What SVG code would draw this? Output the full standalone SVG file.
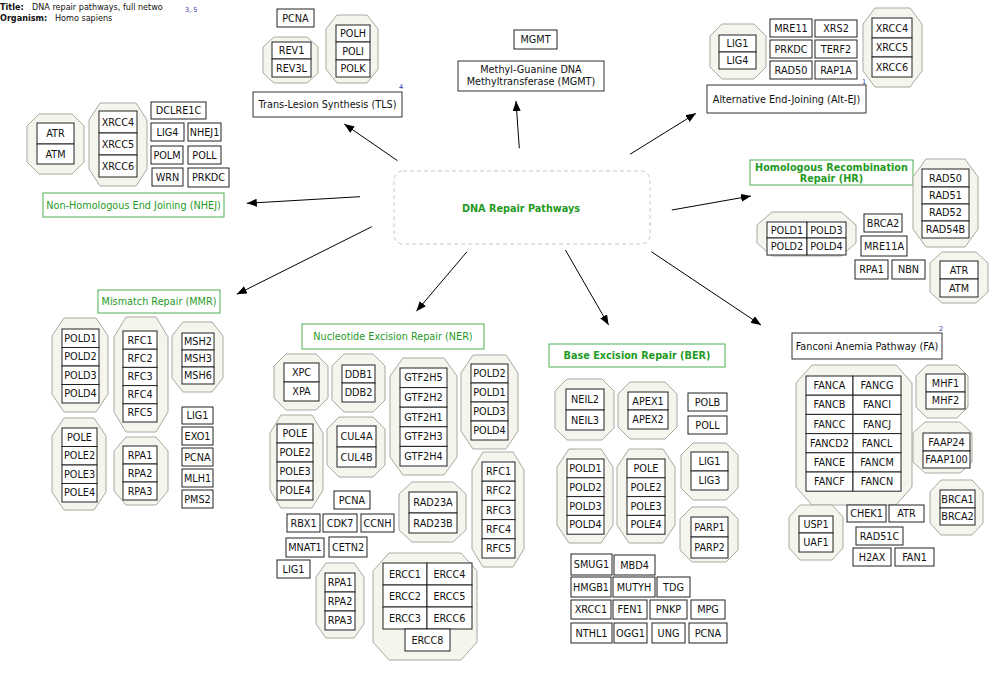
<svg xmlns="http://www.w3.org/2000/svg" width="1000" height="674" viewBox="0 0 1000 674">
<style>
.b{fill:#fff;stroke:#222;stroke-width:1}
.o{fill:#f5f5ee;stroke:#a9a9a0;stroke-width:1}
text{font-family:"DejaVu Sans",sans-serif;font-size:9.7px;fill:#111;text-anchor:middle}
.gl{fill:#fff;stroke:#4caf50;stroke-width:1}
.kl{fill:#fff;stroke:#333;stroke-width:1}
.gt{fill:#1f9a1f}
.bd{font-weight:bold}
.sup{font-size:6.5px;fill:#3333aa;text-anchor:start}
.ttl{font-size:8.1px;text-anchor:start}
.e{stroke:#000;stroke-width:1;fill:none;marker-end:url(#ah)}
</style>
<defs>
<marker id="ah" markerUnits="userSpaceOnUse" markerWidth="10" markerHeight="8" refX="10" refY="4" orient="auto"><path d="M0,0 L10,4 L0,8 z" fill="#000"/></marker>
</defs>
<rect width="1000" height="674" fill="#fff"/>
<g id="info">
<text class="ttl bd" x="0" y="9.5">Title:</text><text class="ttl" x="32" y="9.5">DNA repair pathways, full netwo</text>
<text class="sup" x="185" y="11.5">3, 5</text>
<text class="ttl bd" x="0" y="21">Organism:</text><text class="ttl" x="55" y="21">Homo sapiens</text>
</g>
<g id="connectors">
<line class="e" x1="397.5" y1="160.7" x2="344.3" y2="124"/>
<line class="e" x1="519.3" y1="148.3" x2="516" y2="101"/>
<line class="e" x1="630" y1="154.3" x2="696" y2="113.3"/>
<line class="e" x1="360" y1="196.7" x2="246.8" y2="203.3"/>
<line class="e" x1="671.8" y1="210" x2="751" y2="196"/>
<line class="e" x1="371.8" y1="226.7" x2="236.8" y2="294.3"/>
<line class="e" x1="467" y1="251.7" x2="416.4" y2="311.3"/>
<line class="e" x1="565.4" y1="250" x2="608.6" y2="325"/>
<line class="e" x1="651.4" y1="251.7" x2="761" y2="325"/>
</g>
<g id="center"><rect x="394" y="171" width="256" height="73" rx="9" fill="#fff" stroke="#c8c8c8" stroke-dasharray="4,3"/><text class="gt bd" x="521" y="212">DNA Repair Pathways</text></g>

<!-- NHEJ -->
<g id="nhej-label"><rect class="gl" x="43" y="193" width="181" height="24"/><text class="gt" x="133.5" y="208.5">Non-Homologous End Joining (NHEJ)</text></g>
<g id="nhej-atr-atm"><polygon class="o" points="39,114 72,114 84,126 84,162 72,174 39,174 27,162 27,126"/>
<g id="nhej-ATR"><rect class="b" x="37" y="123" width="37" height="21"/><text x="55.5" y="137">ATR</text></g>
<g id="nhej-ATM"><rect class="b" x="37" y="144" width="37" height="20"/><text x="55.5" y="157.5">ATM</text></g></g>
<g id="nhej-xrcc"><polygon class="o" points="100,103 136,103 147,120 147,169 136,186 100,186 89,169 89,120"/>
<g id="nhej-XRCC4"><rect class="b" x="99" y="111" width="38" height="22"/><text x="118" y="125.5">XRCC4</text></g>
<g id="nhej-XRCC5"><rect class="b" x="99" y="133" width="38" height="22"/><text x="118" y="147.5">XRCC5</text></g>
<g id="nhej-XRCC6"><rect class="b" x="99" y="155" width="38" height="22"/><text x="118" y="169.5">XRCC6</text></g></g>
<g id="nhej-DCLRE1C"><rect class="b" x="151" y="102" width="55" height="17"/><text x="178.5" y="114">DCLRE1C</text></g>
<g id="nhej-LIG4"><rect class="b" x="151" y="123" width="33" height="18"/><text x="167.5" y="135.5">LIG4</text></g>
<g id="nhej-NHEJ1"><rect class="b" x="188" y="123" width="33" height="18"/><text x="204.5" y="135.5">NHEJ1</text></g>
<g id="nhej-POLM"><rect class="b" x="151" y="146" width="32" height="18"/><text x="167" y="158.5">POLM</text></g>
<g id="nhej-POLL"><rect class="b" x="188" y="146" width="33" height="18"/><text x="204.5" y="158.5">POLL</text></g>
<g id="nhej-WRN"><rect class="b" x="152" y="168" width="31" height="18"/><text x="167.5" y="180.5">WRN</text></g>
<g id="nhej-PRKDC"><rect class="b" x="188" y="168" width="41" height="19"/><text x="208.5" y="181">PRKDC</text></g>

<!-- TLS -->
<g id="tls-label"><rect class="kl" x="253" y="92" width="149" height="25"/><text x="327.5" y="108">Trans-Lesion Synthesis (TLS)</text><text class="sup" x="399" y="89">4</text></g>
<g id="tls-PCNA"><rect class="b" x="277" y="9" width="37" height="18"/><text x="295.5" y="21.5">PCNA</text></g>
<g id="tls-rev"><polygon class="o" points="274,37 307,37 318,47 318,73 307,83 274,83 263,73 263,47"/>
<g id="tls-REV1"><rect class="b" x="272" y="42" width="39" height="17"/><text x="291.5" y="54">REV1</text></g>
<g id="tls-REV3L"><rect class="b" x="272" y="59" width="39" height="18"/><text x="291.5" y="71.5">REV3L</text></g></g>
<g id="tls-pol"><polygon class="o" points="337,15 367,15 378,29 378,69 367,83 337,83 326,69 326,29"/>
<g id="tls-POLH"><rect class="b" x="336" y="25" width="34" height="17"/><text x="353" y="37">POLH</text></g>
<g id="tls-POLI"><rect class="b" x="336" y="42" width="34" height="18"/><text x="353" y="54.5">POLI</text></g>
<g id="tls-POLK"><rect class="b" x="336" y="60" width="34" height="17"/><text x="353" y="72">POLK</text></g></g>

<!-- MGMT -->
<g id="mgmt-MGMT"><rect class="b" x="514" y="30" width="43" height="19"/><text x="535.5" y="43">MGMT</text></g>
<g id="mgmt-label"><rect class="kl" x="458" y="61" width="146" height="30"/><text x="531" y="73">Methyl-Guanine DNA</text><text x="531" y="85">Methyltransferase (MGMT)</text></g>

<!-- Alt-EJ -->
<g id="altej-label"><rect class="kl" x="707" y="85" width="159" height="28"/><text x="786.5" y="102.5">Alternative End-Joining (Alt-EJ)</text><text class="sup" x="862" y="84">1</text></g>
<g id="altej-lig"><polygon class="o" points="722,24 754,24 766,36 766,67 754,79 722,79 710,67 710,36"/>
<g id="altej-LIG1"><rect class="b" x="719" y="35" width="37" height="17"/><text x="737.5" y="47">LIG1</text></g>
<g id="altej-LIG4"><rect class="b" x="719" y="52" width="37" height="17"/><text x="737.5" y="64">LIG4</text></g></g>
<g id="altej-MRE11"><rect class="b" x="770" y="19" width="42" height="18"/><text x="791" y="31.5">MRE11</text></g>
<g id="altej-XRS2"><rect class="b" x="815" y="20" width="42" height="17"/><text x="836" y="32">XRS2</text></g>
<g id="altej-PRKDC"><rect class="b" x="770" y="40" width="42" height="18"/><text x="791" y="52.5">PRKDC</text></g>
<g id="altej-TERF2"><rect class="b" x="815" y="40" width="42" height="18"/><text x="836" y="52.5">TERF2</text></g>
<g id="altej-RAD50"><rect class="b" x="770" y="61" width="42" height="18"/><text x="791" y="73.5">RAD50</text></g>
<g id="altej-RAP1A"><rect class="b" x="815" y="61" width="42" height="18"/><text x="836" y="73.5">RAP1A</text></g>
<g id="altej-xrcc"><polygon class="o" points="875,8 910,8 922,24 922,71 910,87 875,87 863,71 863,24"/>
<g id="altej-XRCC4"><rect class="b" x="872" y="18" width="40" height="20"/><text x="892" y="31.5">XRCC4</text></g>
<g id="altej-XRCC5"><rect class="b" x="872" y="38" width="40" height="19"/><text x="892" y="51">XRCC5</text></g>
<g id="altej-XRCC6"><rect class="b" x="872" y="57" width="40" height="20"/><text x="892" y="70.5">XRCC6</text></g></g>

<!-- HR -->
<g id="hr-label"><rect class="gl" x="750" y="160" width="163" height="25"/><text class="gt bd" x="831.5" y="171">Homologous Recombination</text><text class="gt bd" x="831.5" y="182">Repair (HR)</text></g>
<g id="hr-rad"><polygon class="o" points="926,159 965,159 978,177 978,229 965,247 926,247 913,229 913,177"/>
<g id="hr-RAD50"><rect class="b" x="922" y="169" width="47" height="18"/><text x="945.5" y="181.5">RAD50</text></g>
<g id="hr-RAD51"><rect class="b" x="922" y="187" width="47" height="17"/><text x="945.5" y="199">RAD51</text></g>
<g id="hr-RAD52"><rect class="b" x="922" y="204" width="47" height="17"/><text x="945.5" y="216">RAD52</text></g>
<g id="hr-RAD54B"><rect class="b" x="922" y="221" width="47" height="17"/><text x="945.5" y="233">RAD54B</text></g></g>
<g id="hr-pold"><polygon class="o" points="772,212 841,212 856,225 856,243 841,256 772,256 757,243 757,225"/>
<g id="hr-POLD1"><rect class="b" x="767" y="222" width="40" height="16"/><text x="787" y="233.5">POLD1</text></g>
<g id="hr-POLD3"><rect class="b" x="807" y="222" width="39" height="16"/><text x="826.5" y="233.5">POLD3</text></g>
<g id="hr-POLD2"><rect class="b" x="767" y="238" width="40" height="17"/><text x="787" y="250">POLD2</text></g>
<g id="hr-POLD4"><rect class="b" x="807" y="238" width="39" height="17"/><text x="826.5" y="250">POLD4</text></g></g>
<g id="hr-BRCA2"><rect class="b" x="864" y="214" width="38" height="18"/><text x="883" y="226.5">BRCA2</text></g>
<g id="hr-MRE11A"><rect class="b" x="861" y="236" width="46" height="20"/><text x="884" y="249.5">MRE11A</text></g>
<g id="hr-RPA1"><rect class="b" x="855" y="260" width="33" height="19"/><text x="871.5" y="273">RPA1</text></g>
<g id="hr-NBN"><rect class="b" x="892" y="260" width="33" height="19"/><text x="908.5" y="273">NBN</text></g>
<g id="hr-atr"><polygon class="o" points="942,252 976,252 988,263 988,292 976,303 942,303 930,292 930,263"/>
<g id="hr-ATR"><rect class="b" x="940" y="261" width="38" height="18"/><text x="959" y="273.5">ATR</text></g>
<g id="hr-ATM"><rect class="b" x="940" y="279" width="38" height="18"/><text x="959" y="291.5">ATM</text></g></g>

<!-- MMR -->
<g id="mmr-label"><rect class="gl" x="98" y="290" width="122" height="23"/><text class="gt" x="159" y="305">Mismatch Repair (MMR)</text></g>
<g id="mmr-pold"><polygon class="o" points="64,318 96,318 108,336 108,394 96,412 64,412 52,394 52,336"/>
<g id="mmr-POLD1"><rect class="b" x="62" y="329" width="37" height="18.5"/><text x="80.5" y="341.8">POLD1</text></g>
<g id="mmr-POLD2"><rect class="b" x="62" y="347.5" width="37" height="18.5"/><text x="80.5" y="360.3">POLD2</text></g>
<g id="mmr-POLD3"><rect class="b" x="62" y="366" width="37" height="18.5"/><text x="80.5" y="378.8">POLD3</text></g>
<g id="mmr-POLD4"><rect class="b" x="62" y="384.5" width="37" height="18.5"/><text x="80.5" y="397.3">POLD4</text></g></g>
<g id="mmr-rfc"><polygon class="o" points="126,317 156,317 168,337 168,412 156,432 126,432 114,412 114,337"/>
<g id="mmr-RFC1"><rect class="b" x="123" y="331" width="34" height="18.2"/><text x="140" y="343.6">RFC1</text></g>
<g id="mmr-RFC2"><rect class="b" x="123" y="349.2" width="34" height="18.2"/><text x="140" y="361.8">RFC2</text></g>
<g id="mmr-RFC3"><rect class="b" x="123" y="367.4" width="34" height="18.2"/><text x="140" y="380">RFC3</text></g>
<g id="mmr-RFC4"><rect class="b" x="123" y="385.6" width="34" height="18.2"/><text x="140" y="398.2">RFC4</text></g>
<g id="mmr-RFC5"><rect class="b" x="123" y="403.8" width="34" height="18.2"/><text x="140" y="416.4">RFC5</text></g></g>
<g id="mmr-msh"><polygon class="o" points="183,322 212,322 223,336 223,378 212,392 183,392 172,378 172,336"/>
<g id="mmr-MSH2"><rect class="b" x="182" y="333" width="32" height="17"/><text x="198" y="345">MSH2</text></g>
<g id="mmr-MSH3"><rect class="b" x="182" y="350" width="32" height="17"/><text x="198" y="362">MSH3</text></g>
<g id="mmr-MSH6"><rect class="b" x="182" y="367" width="32" height="17"/><text x="198" y="379">MSH6</text></g></g>
<g id="mmr-pole"><polygon class="o" points="64,418 94,418 106,436 106,492 94,510 64,510 52,492 52,436"/>
<g id="mmr-POLE"><rect class="b" x="62" y="428" width="35" height="18.5"/><text x="79.5" y="440.8">POLE</text></g>
<g id="mmr-POLE2"><rect class="b" x="62" y="446.5" width="35" height="18.5"/><text x="79.5" y="459.3">POLE2</text></g>
<g id="mmr-POLE3"><rect class="b" x="62" y="465" width="35" height="18.5"/><text x="79.5" y="477.8">POLE3</text></g>
<g id="mmr-POLE4"><rect class="b" x="62" y="483.5" width="35" height="18.5"/><text x="79.5" y="496.3">POLE4</text></g></g>
<g id="mmr-rpa"><polygon class="o" points="126,437 156,437 168,451 168,491 156,505 126,505 114,491 114,451"/>
<g id="mmr-RPA1"><rect class="b" x="123" y="446" width="34" height="18"/><text x="140" y="458.5">RPA1</text></g>
<g id="mmr-RPA2"><rect class="b" x="123" y="464" width="34" height="18"/><text x="140" y="476.5">RPA2</text></g>
<g id="mmr-RPA3"><rect class="b" x="123" y="482" width="34" height="18"/><text x="140" y="494.5">RPA3</text></g></g>
<g id="mmr-LIG1"><rect class="b" x="182" y="407" width="31" height="17"/><text x="197.5" y="419">LIG1</text></g>
<g id="mmr-EXO1"><rect class="b" x="182" y="427" width="31" height="18"/><text x="197.5" y="439.5">EXO1</text></g>
<g id="mmr-PCNA"><rect class="b" x="182" y="448" width="31" height="18"/><text x="197.5" y="460.5">PCNA</text></g>
<g id="mmr-MLH1"><rect class="b" x="182" y="469" width="31" height="18"/><text x="197.5" y="481.5">MLH1</text></g>
<g id="mmr-PMS2"><rect class="b" x="182" y="490" width="31" height="18"/><text x="197.5" y="502.5">PMS2</text></g>

<!-- NER -->
<g id="ner-label"><rect class="gl" x="302" y="324" width="182" height="25"/><text class="gt" x="393" y="340">Nucleotide Excision Repair (NER)</text></g>
<g id="ner-xp"><polygon class="o" points="286,354 316,354 328,366 328,398 316,410 286,410 274,398 274,366"/>
<g id="ner-XPC"><rect class="b" x="284" y="363" width="35" height="19"/><text x="301.5" y="376">XPC</text></g>
<g id="ner-XPA"><rect class="b" x="284" y="382" width="35" height="19"/><text x="301.5" y="395">XPA</text></g></g>
<g id="ner-ddb"><polygon class="o" points="344,354 373,354 385,366 385,400 373,412 344,412 332,400 332,366"/>
<g id="ner-DDB1"><rect class="b" x="342" y="365" width="33" height="18"/><text x="358.5" y="377.5">DDB1</text></g>
<g id="ner-DDB2"><rect class="b" x="342" y="383" width="33" height="19"/><text x="358.5" y="396">DDB2</text></g></g>
<g id="ner-gtf2h"><polygon class="o" points="403,358 444,358 457,376 457,457 444,475 403,475 390,457 390,376"/>
<g id="ner-GTF2H5"><rect class="b" x="400" y="368" width="47" height="19.6"/><text x="423.5" y="381.3">GTF2H5</text></g>
<g id="ner-GTF2H2"><rect class="b" x="400" y="387.6" width="47" height="19.6"/><text x="423.5" y="400.9">GTF2H2</text></g>
<g id="ner-GTF2H1"><rect class="b" x="400" y="407.2" width="47" height="19.6"/><text x="423.5" y="420.5">GTF2H1</text></g>
<g id="ner-GTF2H3"><rect class="b" x="400" y="426.8" width="47" height="19.6"/><text x="423.5" y="440.1">GTF2H3</text></g>
<g id="ner-GTF2H4"><rect class="b" x="400" y="446.4" width="47" height="19.6"/><text x="423.5" y="459.7">GTF2H4</text></g></g>
<g id="ner-pold"><polygon class="o" points="473,355 506,355 518,373 518,431 506,449 473,449 461,431 461,373"/>
<g id="ner-POLD2"><rect class="b" x="471" y="364" width="37" height="19"/><text x="489.5" y="377">POLD2</text></g>
<g id="ner-POLD1"><rect class="b" x="471" y="383" width="37" height="19"/><text x="489.5" y="396">POLD1</text></g>
<g id="ner-POLD3"><rect class="b" x="471" y="402" width="37" height="19"/><text x="489.5" y="415">POLD3</text></g>
<g id="ner-POLD4"><rect class="b" x="471" y="421" width="37" height="19"/><text x="489.5" y="434">POLD4</text></g></g>
<g id="ner-pole"><polygon class="o" points="281,415 312,415 323,433 323,490 312,508 281,508 270,490 270,433"/>
<g id="ner-POLE"><rect class="b" x="277" y="424" width="36" height="19"/><text x="295" y="437">POLE</text></g>
<g id="ner-POLE2"><rect class="b" x="277" y="443" width="36" height="19"/><text x="295" y="456">POLE2</text></g>
<g id="ner-POLE3"><rect class="b" x="277" y="462" width="36" height="19"/><text x="295" y="475">POLE3</text></g>
<g id="ner-POLE4"><rect class="b" x="277" y="481" width="36" height="19"/><text x="295" y="494">POLE4</text></g></g>
<g id="ner-cul4"><polygon class="o" points="339,417 373,417 385,429 385,465 373,477 339,477 327,465 327,429"/>
<g id="ner-CUL4A"><rect class="b" x="337" y="426" width="39" height="21"/><text x="356.5" y="440">CUL4A</text></g>
<g id="ner-CUL4B"><rect class="b" x="337" y="447" width="39" height="20"/><text x="356.5" y="460.5">CUL4B</text></g></g>
<g id="ner-PCNA"><rect class="b" x="334" y="491" width="36" height="18"/><text x="352" y="503.5">PCNA</text></g>
<g id="ner-RBX1"><rect class="b" x="287" y="514" width="33" height="18"/><text x="303.5" y="526.5">RBX1</text></g>
<g id="ner-CDK7"><rect class="b" x="323" y="514" width="34" height="18"/><text x="340" y="526.5">CDK7</text></g>
<g id="ner-CCNH"><rect class="b" x="361" y="514" width="33" height="18"/><text x="377.5" y="526.5">CCNH</text></g>
<g id="ner-MNAT1"><rect class="b" x="286" y="538" width="38" height="19"/><text x="305" y="551">MNAT1</text></g>
<g id="ner-CETN2"><rect class="b" x="329" y="537" width="38" height="20"/><text x="348" y="550.5">CETN2</text></g>
<g id="ner-LIG1"><rect class="b" x="277" y="560" width="33" height="18"/><text x="293.5" y="572.5">LIG1</text></g>
<g id="ner-rad23"><polygon class="o" points="412,482 453,482 466,494 466,530 453,542 412,542 399,530 399,494"/>
<g id="ner-RAD23A"><rect class="b" x="409" y="492" width="48" height="21"/><text x="433" y="506">RAD23A</text></g>
<g id="ner-RAD23B"><rect class="b" x="409" y="513" width="48" height="20"/><text x="433" y="526.5">RAD23B</text></g></g>
<g id="ner-rfc"><polygon class="o" points="483,452 513,452 524,470 524,549 513,567 483,567 472,549 472,470"/>
<g id="ner-RFC1"><rect class="b" x="482" y="462" width="33" height="19.2"/><text x="498.5" y="475.1">RFC1</text></g>
<g id="ner-RFC2"><rect class="b" x="482" y="481.2" width="33" height="19.2"/><text x="498.5" y="494.3">RFC2</text></g>
<g id="ner-RFC3"><rect class="b" x="482" y="500.4" width="33" height="19.2"/><text x="498.5" y="513.5">RFC3</text></g>
<g id="ner-RFC4"><rect class="b" x="482" y="519.6" width="33" height="19.2"/><text x="498.5" y="532.7">RFC4</text></g>
<g id="ner-RFC5"><rect class="b" x="482" y="538.8" width="33" height="19.2"/><text x="498.5" y="551.9">RFC5</text></g></g>
<g id="ner-rpa"><polygon class="o" points="326,563 354,563 364,577 364,624 354,638 326,638 316,624 316,577"/>
<g id="ner-RPA1"><rect class="b" x="325" y="573" width="30" height="19"/><text x="340" y="586">RPA1</text></g>
<g id="ner-RPA2"><rect class="b" x="325" y="592" width="30" height="19"/><text x="340" y="605">RPA2</text></g>
<g id="ner-RPA3"><rect class="b" x="325" y="611" width="30" height="19"/><text x="340" y="624">RPA3</text></g></g>
<g id="ner-ercc"><polygon class="o" points="389,553 461,553 477,571 477,642 461,660 389,660 373,642 373,571"/>
<g id="ner-ERCC1"><rect class="b" x="383" y="563" width="44" height="22"/><text x="405" y="577.5">ERCC1</text></g>
<g id="ner-ERCC4"><rect class="b" x="427" y="563" width="45" height="22"/><text x="449.5" y="577.5">ERCC4</text></g>
<g id="ner-ERCC2"><rect class="b" x="383" y="585" width="44" height="22"/><text x="405" y="599.5">ERCC2</text></g>
<g id="ner-ERCC5"><rect class="b" x="427" y="585" width="45" height="22"/><text x="449.5" y="599.5">ERCC5</text></g>
<g id="ner-ERCC3"><rect class="b" x="383" y="607" width="44" height="22"/><text x="405" y="621.5">ERCC3</text></g>
<g id="ner-ERCC6"><rect class="b" x="427" y="607" width="45" height="22"/><text x="449.5" y="621.5">ERCC6</text></g>
<g id="ner-ERCC8"><rect class="b" x="405" y="629" width="45" height="22"/><text x="427.5" y="643.5">ERCC8</text></g></g>

<!-- BER -->
<g id="ber-label"><rect class="gl" x="549" y="344" width="176" height="23"/><text class="gt bd" x="637" y="359">Base Excision Repair (BER)</text></g>
<g id="ber-neil"><polygon class="o" points="567,379 602,379 614,391 614,428 602,440 567,440 555,428 555,391"/>
<g id="ber-NEIL2"><rect class="b" x="566" y="389" width="38" height="21"/><text x="585" y="403">NEIL2</text></g>
<g id="ber-NEIL3"><rect class="b" x="566" y="410" width="38" height="20"/><text x="585" y="423.5">NEIL3</text></g></g>
<g id="ber-apex"><polygon class="o" points="630,382 665,382 677,394 677,427 665,439 630,439 618,427 618,394"/>
<g id="ber-APEX1"><rect class="b" x="628" y="392" width="40" height="18"/><text x="648" y="404.5">APEX1</text></g>
<g id="ber-APEX2"><rect class="b" x="628" y="410" width="40" height="19"/><text x="648" y="423">APEX2</text></g></g>
<g id="ber-POLB"><rect class="b" x="688" y="393" width="39" height="18"/><text x="707.5" y="405.5">POLB</text></g>
<g id="ber-POLL"><rect class="b" x="688" y="416" width="39" height="18"/><text x="707.5" y="428.5">POLL</text></g>
<g id="ber-pold"><polygon class="o" points="569,449 601,449 613,467 613,525 601,543 569,543 557,525 557,467"/>
<g id="ber-POLD1"><rect class="b" x="567" y="459" width="37" height="18.8"/><text x="585.5" y="471.9">POLD1</text></g>
<g id="ber-POLD2"><rect class="b" x="567" y="477.8" width="37" height="18.8"/><text x="585.5" y="490.7">POLD2</text></g>
<g id="ber-POLD3"><rect class="b" x="567" y="496.6" width="37" height="18.8"/><text x="585.5" y="509.5">POLD3</text></g>
<g id="ber-POLD4"><rect class="b" x="567" y="515.4" width="37" height="18.8"/><text x="585.5" y="528.3">POLD4</text></g></g>
<g id="ber-pole"><polygon class="o" points="629,449 663,449 675,467 675,525 663,543 629,543 617,525 617,467"/>
<g id="ber-POLE"><rect class="b" x="627" y="459" width="38" height="18.8"/><text x="646" y="471.9">POLE</text></g>
<g id="ber-POLE2"><rect class="b" x="627" y="477.8" width="38" height="18.8"/><text x="646" y="490.7">POLE2</text></g>
<g id="ber-POLE3"><rect class="b" x="627" y="496.6" width="38" height="18.8"/><text x="646" y="509.5">POLE3</text></g>
<g id="ber-POLE4"><rect class="b" x="627" y="515.4" width="38" height="18.8"/><text x="646" y="528.3">POLE4</text></g></g>
<g id="ber-lig"><polygon class="o" points="693,443 726,443 738,455 738,488 726,500 693,500 681,488 681,455"/>
<g id="ber-LIG1"><rect class="b" x="691" y="452" width="37" height="19"/><text x="709.5" y="465">LIG1</text></g>
<g id="ber-LIG3"><rect class="b" x="691" y="471" width="37" height="19"/><text x="709.5" y="484">LIG3</text></g></g>
<g id="ber-parp"><polygon class="o" points="692,507 726,507 738,519 738,550 726,562 692,562 680,550 680,519"/>
<g id="ber-PARP1"><rect class="b" x="691" y="517" width="37" height="20"/><text x="709.5" y="530.5">PARP1</text></g>
<g id="ber-PARP2"><rect class="b" x="691" y="537" width="37" height="21"/><text x="709.5" y="551">PARP2</text></g></g>
<g id="ber-SMUG1"><rect class="b" x="571" y="554" width="41" height="21"/><text x="591.5" y="568">SMUG1</text></g>
<g id="ber-MBD4"><rect class="b" x="614" y="555" width="41" height="20"/><text x="634.5" y="568.5">MBD4</text></g>
<g id="ber-HMGB1"><rect class="b" x="571" y="577" width="40" height="20"/><text x="591" y="590.5">HMGB1</text></g>
<g id="ber-MUTYH"><rect class="b" x="613" y="577" width="42" height="20"/><text x="634" y="590.5">MUTYH</text></g>
<g id="ber-TDG"><rect class="b" x="657" y="577" width="33" height="20"/><text x="673.5" y="590.5">TDG</text></g>
<g id="ber-XRCC1"><rect class="b" x="571" y="600" width="40" height="19"/><text x="591" y="613">XRCC1</text></g>
<g id="ber-FEN1"><rect class="b" x="613" y="600" width="34" height="19"/><text x="630" y="613">FEN1</text></g>
<g id="ber-PNKP"><rect class="b" x="650" y="600" width="37" height="19"/><text x="668.5" y="613">PNKP</text></g>
<g id="ber-MPG"><rect class="b" x="691" y="600" width="34" height="19"/><text x="708" y="613">MPG</text></g>
<g id="ber-NTHL1"><rect class="b" x="571" y="623" width="41" height="20"/><text x="591.5" y="636.5">NTHL1</text></g>
<g id="ber-OGG1"><rect class="b" x="614" y="623" width="33" height="20"/><text x="630.5" y="636.5">OGG1</text></g>
<g id="ber-UNG"><rect class="b" x="652" y="623" width="33" height="20"/><text x="668.5" y="636.5">UNG</text></g>
<g id="ber-PCNA"><rect class="b" x="689" y="623" width="38" height="20"/><text x="708" y="636.5">PCNA</text></g>

<!-- FA -->
<g id="fa-label"><rect class="kl" x="792" y="333" width="150" height="26"/><text x="867" y="349.5">Fanconi Anemia Pathway (FA)</text><text class="sup" x="939" y="331">2</text></g>
<g id="fa-fanc"><polygon class="o" points="812,365 896,365 912,383 912,487 896,505 812,505 796,487 796,383"/>
<g id="fa-FANCA"><rect class="b" x="806" y="376" width="47" height="19.2"/><text x="829.5" y="389.1">FANCA</text></g>
<g id="fa-FANCB"><rect class="b" x="806" y="395.2" width="47" height="19.2"/><text x="829.5" y="408.3">FANCB</text></g>
<g id="fa-FANCC"><rect class="b" x="806" y="414.4" width="47" height="19.2"/><text x="829.5" y="427.5">FANCC</text></g>
<g id="fa-FANCD2"><rect class="b" x="806" y="433.6" width="47" height="19.2"/><text x="829.5" y="446.7">FANCD2</text></g>
<g id="fa-FANCE"><rect class="b" x="806" y="452.8" width="47" height="19.2"/><text x="829.5" y="465.9">FANCE</text></g>
<g id="fa-FANCF"><rect class="b" x="806" y="472" width="47" height="19.2"/><text x="829.5" y="485.1">FANCF</text></g>
<g id="fa-FANCG"><rect class="b" x="853" y="376" width="48" height="19.2"/><text x="877" y="389.1">FANCG</text></g>
<g id="fa-FANCI"><rect class="b" x="853" y="395.2" width="48" height="19.2"/><text x="877" y="408.3">FANCI</text></g>
<g id="fa-FANCJ"><rect class="b" x="853" y="414.4" width="48" height="19.2"/><text x="877" y="427.5">FANCJ</text></g>
<g id="fa-FANCL"><rect class="b" x="853" y="433.6" width="48" height="19.2"/><text x="877" y="446.7">FANCL</text></g>
<g id="fa-FANCM"><rect class="b" x="853" y="452.8" width="48" height="19.2"/><text x="877" y="465.9">FANCM</text></g>
<g id="fa-FANCN"><rect class="b" x="853" y="472" width="48" height="19.2"/><text x="877" y="485.1">FANCN</text></g></g>
<g id="fa-mhf"><polygon class="o" points="927,365 957,365 968,376 968,407 957,418 927,418 916,407 916,376"/>
<g id="fa-MHF1"><rect class="b" x="926" y="374" width="39" height="18"/><text x="945.5" y="386.5">MHF1</text></g>
<g id="fa-MHF2"><rect class="b" x="926" y="392" width="39" height="17"/><text x="945.5" y="404">MHF2</text></g></g>
<g id="fa-faap"><polygon class="o" points="925,422 960,422 972,433 972,462 960,473 925,473 913,462 913,433"/>
<g id="fa-FAAP24"><rect class="b" x="923" y="433" width="47" height="18"/><text x="946.5" y="445.5">FAAP24</text></g>
<g id="fa-FAAP100"><rect class="b" x="923" y="451" width="47" height="17"/><text x="946.5" y="463">FAAP100</text></g></g>
<g id="fa-brca"><polygon class="o" points="941,480 972,480 983,492 983,523 972,535 941,535 930,523 930,492"/>
<g id="fa-BRCA1"><rect class="b" x="940" y="490" width="35" height="18"/><text x="957.5" y="502.5">BRCA1</text></g>
<g id="fa-BRCA2"><rect class="b" x="940" y="508" width="35" height="17"/><text x="957.5" y="520">BRCA2</text></g></g>
<g id="fa-usp"><polygon class="o" points="800,505 832,505 843,517 843,548 832,560 800,560 789,548 789,517"/>
<g id="fa-USP1"><rect class="b" x="799" y="516" width="34" height="17"/><text x="816" y="528">USP1</text></g>
<g id="fa-UAF1"><rect class="b" x="799" y="533" width="34" height="19"/><text x="816" y="546">UAF1</text></g></g>
<g id="fa-CHEK1"><rect class="b" x="847" y="505" width="39" height="17"/><text x="866.5" y="517">CHEK1</text></g>
<g id="fa-ATR"><rect class="b" x="889" y="505" width="35" height="17"/><text x="906.5" y="517">ATR</text></g>
<g id="fa-RAD51C"><rect class="b" x="856" y="527" width="47" height="18"/><text x="879.5" y="539.5">RAD51C</text></g>
<g id="fa-H2AX"><rect class="b" x="853" y="548" width="38" height="18"/><text x="872" y="560.5">H2AX</text></g>
<g id="fa-FAN1"><rect class="b" x="895" y="548" width="39" height="18"/><text x="914.5" y="560.5">FAN1</text></g>
</svg>
